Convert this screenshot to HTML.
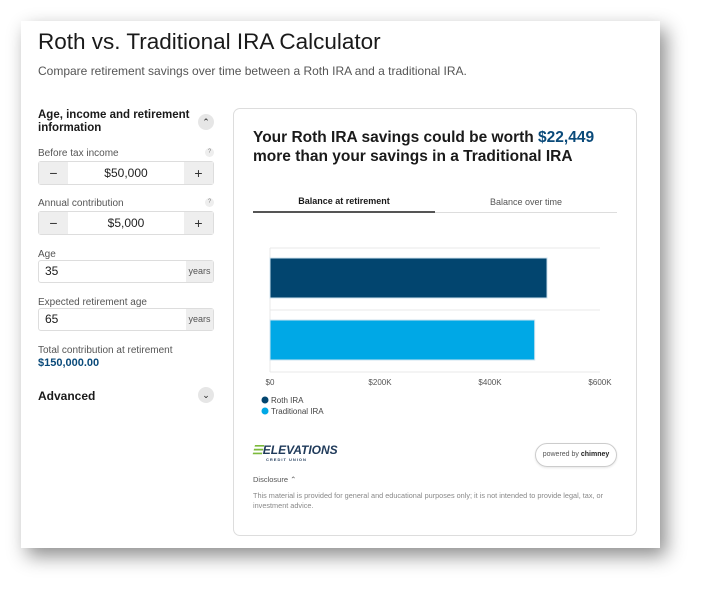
<!DOCTYPE html>
<html><head><meta charset="utf-8"><style>
*{box-sizing:border-box;margin:0;padding:0}
body{width:702px;height:591px;background:#fff;font-family:"Liberation Sans",sans-serif;position:relative;overflow:hidden;color:#1a1a1a}
.card{position:absolute;left:21px;top:21px;width:639px;height:527px;background:#fff;box-shadow:6px 8px 18px rgba(0,0,0,.45)}
.a{position:absolute}
.lbl{font-size:10px;color:#555}
.q{position:absolute;width:9px;height:9px;border-radius:50%;background:#eee;font-size:6px;color:#888;text-align:center;line-height:9px}
.stepper{position:absolute;left:38px;width:176px;height:24px;border:1px solid #ddd;border-radius:3px;display:flex;font-size:12px}
.stepper .b{width:29px;background:#eee;text-align:center;line-height:22px;font-size:14px;color:#333}
.stepper .v{flex:1;text-align:center;line-height:22px;color:#222}
.inp{position:absolute;left:38px;width:176px;height:23px;border:1px solid #ddd;border-radius:3px;font-size:12px;line-height:21px;padding-left:6px}
.inp span{position:absolute;right:0;top:0;width:27px;height:21px;background:#eee;font-size:9px;color:#555;text-align:center}
.circ{position:absolute;width:16px;height:16px;border-radius:50%;background:#e6e6e6;font-size:9px;text-align:center;line-height:16px;color:#222}
</style></head><body>
<div class="card"></div>
<div class="a" style="left:38px;top:29px;font-size:22.5px;color:#1a1a1a">Roth vs. Traditional IRA Calculator</div>
<div class="a" style="left:38px;top:64px;font-size:12px;color:#555">Compare retirement savings over time between a Roth IRA and a traditional IRA.</div>

<div class="a" style="left:38px;top:109px;font-size:11.5px;font-weight:bold;line-height:13px;width:160px">Age, income and retirement information</div>
<div class="circ" style="left:198px;top:114px">&#8963;</div>

<div class="a lbl" style="left:38px;top:148px">Before tax income</div>
<div class="q" style="left:205px;top:148px">?</div>
<div class="stepper" style="top:161px"><div class="b">&minus;</div><div class="v">$50,000</div><div class="b">+</div></div>

<div class="a lbl" style="left:38px;top:198px">Annual contribution</div>
<div class="q" style="left:205px;top:198px">?</div>
<div class="stepper" style="top:211px"><div class="b">&minus;</div><div class="v">$5,000</div><div class="b">+</div></div>

<div class="a lbl" style="left:38px;top:249px">Age</div>
<div class="inp" style="top:260px">35<span>years</span></div>
<div class="a lbl" style="left:38px;top:297px">Expected retirement age</div>
<div class="inp" style="top:308px">65<span>years</span></div>
<div class="a lbl" style="left:38px;top:345px">Total contribution at retirement</div>
<div class="a" style="left:38px;top:357px;font-size:11px;font-weight:bold;color:#0a4a7a">$150,000.00</div>
<div class="a" style="left:38px;top:389px;font-size:12px;font-weight:bold">Advanced</div>
<div class="circ" style="left:198px;top:387px">&#8964;</div>

<div class="a" style="left:233px;top:108px;width:404px;height:428px;border:1px solid #ddd;border-radius:7px"></div>
<div class="a" style="left:253px;top:128px;font-size:15.5px;font-weight:bold;line-height:19px;color:#1a1a1a">Your Roth IRA savings could be worth <span style="color:#0a4a7a">$22,449</span><br>more than your savings in a Traditional IRA</div>
<div class="a" style="left:253px;top:196px;width:182px;height:17px;text-align:center;font-size:9px;font-weight:bold;border-bottom:2px solid #555">Balance at retirement</div>
<div class="a" style="left:435px;top:196px;width:182px;height:17px;text-align:center;font-size:9px;color:#555;border-bottom:1px solid #ddd;padding-top:1px">Balance over time</div>

<svg class="a" style="left:240px;top:240px" width="390" height="180" id="chart"></svg>

<div class="a" style="left:252px;top:443px;font-size:12px;font-weight:bold;font-style:italic;color:#1f3a5a"><span style="color:#7cba3c">&#9776;</span>ELEVATIONS<div style="font-size:4px;letter-spacing:1px;margin-left:14px;font-style:normal">CREDIT UNION</div></div>
<div class="a" style="left:535px;top:443px;width:82px;height:24px;border:1px solid #ccc;border-radius:12px;font-size:7px;color:#555;text-align:center;line-height:22px;box-shadow:0 1px 2px rgba(0,0,0,.1)">powered by <b style="color:#222">chimney</b></div>
<div class="a" style="left:253px;top:475px;font-size:7.5px;color:#555">Disclosure &#8963;</div>
<div class="a" style="left:253px;top:491px;font-size:7.3px;color:#888;line-height:9.5px;width:375px">This material is provided for general and educational purposes only; it is not intended to provide legal, tax, or investment advice.</div>

<script>
const categories=["Roth IRA","Traditional IRA"];
const values=[503700,481250];
const colors=["#02456f","#00a8e6"];
const ticks=[0,200000,400000,600000];
const tickLabels=["$0","$200K","$400K","$600K"];
const svg=document.getElementById('chart');
const NS='http://www.w3.org/2000/svg';
const x0=30,x1=360,top0=8,band=62;
const xs=v=>x0+(v/600000)*(x1-x0);
function mk(t,a){const e=document.createElementNS(NS,t);for(const k in a)e.setAttribute(k,a[k]);svg.appendChild(e);return e;}
for(let i=0;i<=categories.length;i++){
  const g=mk('line',{x1:x0,x2:x1,y1:top0+i*band,y2:top0+i*band,stroke:'#e8e8e8'});
  
  
}
const ax=mk('line',{x1:x0,x2:x0,y1:top0,y2:top0+2*band,stroke:'#e8e8e8'});


categories.forEach((c,i)=>{
  const r=mk('rect',{x:x0,y:top0+i*band+10,width:xs(values[i])-x0,height:40,fill:colors[i],stroke:'#cfe3ef','stroke-width':1});
  
  
  const d=mk('circle',{cx:25,cy:160+i*11,r:3.5,fill:colors[i]});
  
  
  const t=mk('text',{x:31,y:163+i*11,'font-size':8,fill:'#444','font-family':'Liberation Sans'});
  t.textContent=c;
  
  
});
ticks.forEach((v,i)=>{
  const t=mk('text',{x:xs(v),y:145,'font-size':8,fill:'#555','text-anchor':'middle','font-family':'Liberation Sans'});
  t.textContent=tickLabels[i];
  
  
});
</script>
</body></html>
